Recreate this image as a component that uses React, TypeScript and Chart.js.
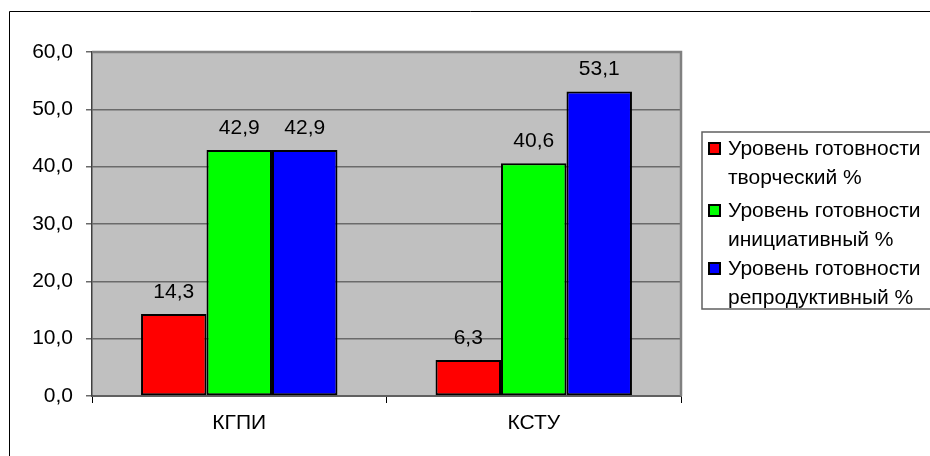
import React, { useEffect, useRef } from "react";
import { Chart, registerables } from "chart.js";

Chart.register(...registerables);

const categories = ["КГПИ", "КСТУ"];
const seriesNames = [
  ["Уровень готовности", "творческий %"],
  ["Уровень готовности", "инициативный %"],
  ["Уровень готовности", "репродуктивный %"],
];
const creativeValues = [14.3, 6.3];
const initiativeValues = [42.9, 40.6];
const reproductiveValues = [42.9, 53.1];
const seriesColors = ["#FF0000", "#00FF00", "#0000FF"];
const yMin = 0;
const yMax = 60;
const yStep = 10;

const FONT = "'Liberation Sans', Arial, sans-serif";
const FS = 21;

const fmt = (v: number) => v.toFixed(1).replace(".", ",");

const framePlugin = {
  id: "frame",
  beforeDraw(chart: any) {
    const { ctx, chartArea: a } = chart;
    ctx.save();
    ctx.fillStyle = "#FFFFFF";
    ctx.fillRect(0, 0, chart.width, chart.height);
    ctx.strokeStyle = "#000000";
    ctx.lineWidth = 1;
    ctx.beginPath();
    ctx.moveTo(9.5, chart.height + 5);
    ctx.lineTo(9.5, 11.5);
    ctx.lineTo(chart.width + 5, 11.5);
    ctx.stroke();
    ctx.fillStyle = "#C0C0C0";
    ctx.fillRect(a.left, a.top, a.right - a.left, a.bottom - a.top);
    ctx.restore();
  },
  afterDatasetsDraw(chart: any) {
    const { ctx, chartArea: a } = chart;
    ctx.save();
    // plot area border (top/right)
    ctx.strokeStyle = "#808080";
    ctx.lineWidth = 2.5;
    ctx.beginPath();
    ctx.moveTo(a.left, a.top);
    ctx.lineTo(a.right, a.top);
    ctx.lineTo(a.right, a.bottom);
    ctx.stroke();
    // data labels
    ctx.fillStyle = "#000000";
    ctx.font = `${FS}px ${FONT}`;
    ctx.textAlign = "center";
    ctx.textBaseline = "middle";
    chart.data.datasets.forEach((ds: any, i: number) => {
      const meta = chart.getDatasetMeta(i);
      meta.data.forEach((bar: any, j: number) => {
        ctx.fillText(fmt(ds.data[j]), bar.x, bar.y - 22);
      });
    });
    // legend
    ctx.strokeStyle = "#606060";
    ctx.lineWidth = 1.5;
    ctx.beginPath();
    ctx.moveTo(chart.width + 5, 132);
    ctx.lineTo(702, 132);
    ctx.lineTo(702, 309);
    ctx.lineTo(chart.width + 5, 309);
    ctx.stroke();
    ctx.textAlign = "left";
    const rowTops = [149, 211, 269];
    chart.data.datasets.forEach((ds: any, i: number) => {
      const y = rowTops[i];
      ctx.fillStyle = ds.backgroundColor;
      ctx.fillRect(709, y - 6, 11, 11);
      ctx.strokeStyle = "#000000";
      ctx.lineWidth = 2;
      ctx.strokeRect(709, y - 6, 11, 11);
      ctx.fillStyle = "#000000";
      const lines = seriesNames[i];
      lines.forEach((t, k) => ctx.fillText(t, 728, y + k * 29));
    });
    ctx.restore();
  },
};

export default function App() {
  const ref = useRef<HTMLCanvasElement | null>(null);
  useEffect(() => {
    if (!ref.current) return;
    const chart = new Chart(ref.current, {
      type: "bar",
      data: {
        labels: categories,
        datasets: [creativeValues, initiativeValues, reproductiveValues].map((d, i) => ({
          label: seriesNames[i].join(" "),
          data: d,
          backgroundColor: seriesColors[i],
          borderColor: "#000000",
          borderWidth: 2,
          borderSkipped: false,
          barPercentage: 1,
          categoryPercentage: 0.667,
        })),
      },
      options: {
        responsive: false,
        animation: false,
        layout: { padding: { left: 0, top: 52, right: 249, bottom: 0 } },
        plugins: { legend: { display: false }, tooltip: { enabled: false } },
        scales: {
          x: {
            afterFit: (s: any) => {
              s.height = 60;
            },
            grid: {
              offset: true,
              drawOnChartArea: false,
              drawTicks: true,
              tickLength: 7,
              color: "#000000",
            },
            border: { display: true, color: "#606060", width: 2 },
            ticks: {
              color: "#000000",
              padding: 8,
              font: { family: FONT, size: FS },
            },
          },
          y: {
            min: yMin,
            max: yMax,
            afterFit: (s: any) => {
              s.width = 92;
            },
            grid: {
              color: "#6a6a6a",
              lineWidth: 1.5,
              drawTicks: true,
              tickLength: 6,
            },
            border: { display: true, color: "#404040", width: 1.5 },
            ticks: {
              stepSize: yStep,
              color: "#000000",
              padding: 13,
              font: { family: FONT, size: FS },
              callback: (v: any) => fmt(Number(v)),
            },
          },
        },
      },
      plugins: [framePlugin],
    });
    return () => chart.destroy();
  }, []);
  return (
    <div style={{ position: "absolute", left: 0, top: 0, width: 930, height: 456 }}>
      <canvas ref={ref} width={930} height={456} style={{ display: "block" }} />
    </div>
  );
}
